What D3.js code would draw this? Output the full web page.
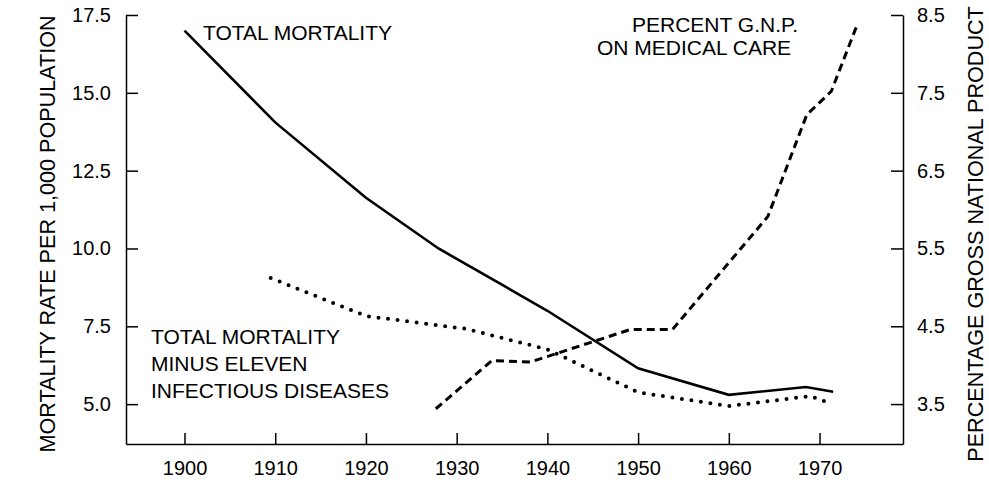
<!DOCTYPE html>
<html>
<head>
<meta charset="utf-8">
<script src="https://cdn.jsdelivr.net/npm/d3@7"></script>
<style>
  body { margin: 0; background: #fff; }
  svg { display: block; font-family: "Liberation Sans", Arial, sans-serif; }
  .axis path, .axis line { stroke: #000; stroke-width: 1.5; }
  .axis text { font-size: 20px; fill: #000; }
  .lbl { font-size: 21px; fill: #000; }
  .title { font-size: 21.6px; fill: #000; }
</style>
</head>
<body>
<svg width="989" height="480"></svg>
<script>
// total mortality (left axis, per 1,000)
var totalYears = [1900, 1910, 1920, 1928, 1940, 1950, 1960, 1968.5, 1971.5]
var totalRate  = [17.0, 14.05, 11.63, 10.0, 8.0, 6.15, 5.3, 5.55, 5.4]

// total mortality minus eleven infectious diseases (left axis)
var minusYears = [1909.5, 1920, 1931, 1940, 1950, 1960, 1969, 1971.2]
var minusRate  = [9.05, 7.83, 7.42, 6.76, 5.38, 4.94, 5.26, 5.03]

// percent G.N.P. on medical care (right axis)
var gnpYears = [1927.7, 1933.9, 1938.1, 1949.2, 1953.8, 1964.3, 1968.6, 1971.3, 1974.2]
var gnpPct   = [3.44, 4.06, 4.04, 4.46, 4.46, 5.91, 7.22, 7.52, 8.39]

var xTicks = [1900, 1910, 1920, 1930, 1940, 1950, 1960, 1970]
var leftTicks = [5.0, 7.5, 10.0, 12.5, 15.0, 17.5]
var rightTicks = [3.5, 4.5, 5.5, 6.5, 7.5, 8.5]

var svg = d3.select("svg")

var x = d3.scaleLinear().domain([1893.55, 1979.2]).range([126, 903])
var yL = d3.scaleLinear().domain([3.72, 17.5]).range([444, 15])
var yR = d3.scaleLinear().domain([2.987, 8.5]).range([444, 15])

svg.append("g")
    .attr("class", "axis")
    .attr("transform", "translate(0,444)")
    .call(d3.axisBottom(x).tickValues(xTicks).tickFormat(d3.format("d"))
      .tickSizeInner(-11).tickSizeOuter(0).tickPadding(17))

svg.append("g")
    .attr("class", "axis")
    .attr("transform", "translate(126,0)")
    .call(d3.axisLeft(yL).tickValues(leftTicks).tickFormat(d3.format(".1f"))
      .tickSizeInner(-12).tickSizeOuter(0).tickPadding(15))

svg.append("g")
    .attr("class", "axis")
    .attr("transform", "translate(903,0)")
    .call(d3.axisRight(yR).tickValues(rightTicks).tickFormat(d3.format(".1f"))
      .tickSizeInner(-12).tickSizeOuter(0).tickPadding(14))

svg.selectAll(".axis").attr("font-family", null).attr("font-size", null)

function series(xs, ys) {
  return xs.map(function(d, i) { return [d, ys[i]] })
}

var lineL = d3.line().x(d => x(d[0])).y(d => yL(d[1]))
var lineR = d3.line().x(d => x(d[0])).y(d => yR(d[1]))

svg.append("path")
    .datum(series(totalYears, totalRate))
    .attr("d", lineL)
    .attr("fill", "none")
    .attr("stroke", "#000")
    .attr("stroke-width", 2.6)

svg.append("path")
    .datum(series(minusYears, minusRate))
    .attr("d", lineL)
    .attr("fill", "none")
    .attr("stroke", "#000")
    .attr("stroke-width", 4)
    .attr("stroke-linecap", "round")
    .attr("stroke-dasharray", "0 9.6")

svg.append("path")
    .datum(series(gnpYears, gnpPct))
    .attr("d", lineR)
    .attr("fill", "none")
    .attr("stroke", "#000")
    .attr("stroke-width", 3)
    .attr("stroke-dasharray", "8 5")

// annotations
svg.append("text").attr("class", "lbl").attr("x", 203).attr("y", 40).text("TOTAL MORTALITY")
svg.append("text").attr("class", "lbl").attr("x", 632).attr("y", 32).text("PERCENT G.N.P.")
svg.append("text").attr("class", "lbl").attr("x", 597).attr("y", 55).text("ON MEDICAL CARE")

var lower = ["TOTAL MORTALITY", "MINUS ELEVEN", "INFECTIOUS DISEASES"]
svg.append("g").selectAll("text")
    .data(lower)
    .enter().append("text")
    .attr("class", "lbl")
    .attr("x", 151)
    .attr("y", function(d, i) { return 344 + i * 27 })
    .text(function(d) { return d })

// axis titles
svg.append("text")
    .attr("class", "title")
    .attr("transform", "translate(55,234) rotate(-90)")
    .attr("text-anchor", "middle")
    .text("MORTALITY RATE PER 1,000 POPULATION")

svg.append("text")
    .attr("class", "title")
    .attr("transform", "translate(983,234) rotate(-90)")
    .attr("text-anchor", "middle")
    .text("PERCENTAGE GROSS NATIONAL PRODUCT")
</script>
</body>
</html>
